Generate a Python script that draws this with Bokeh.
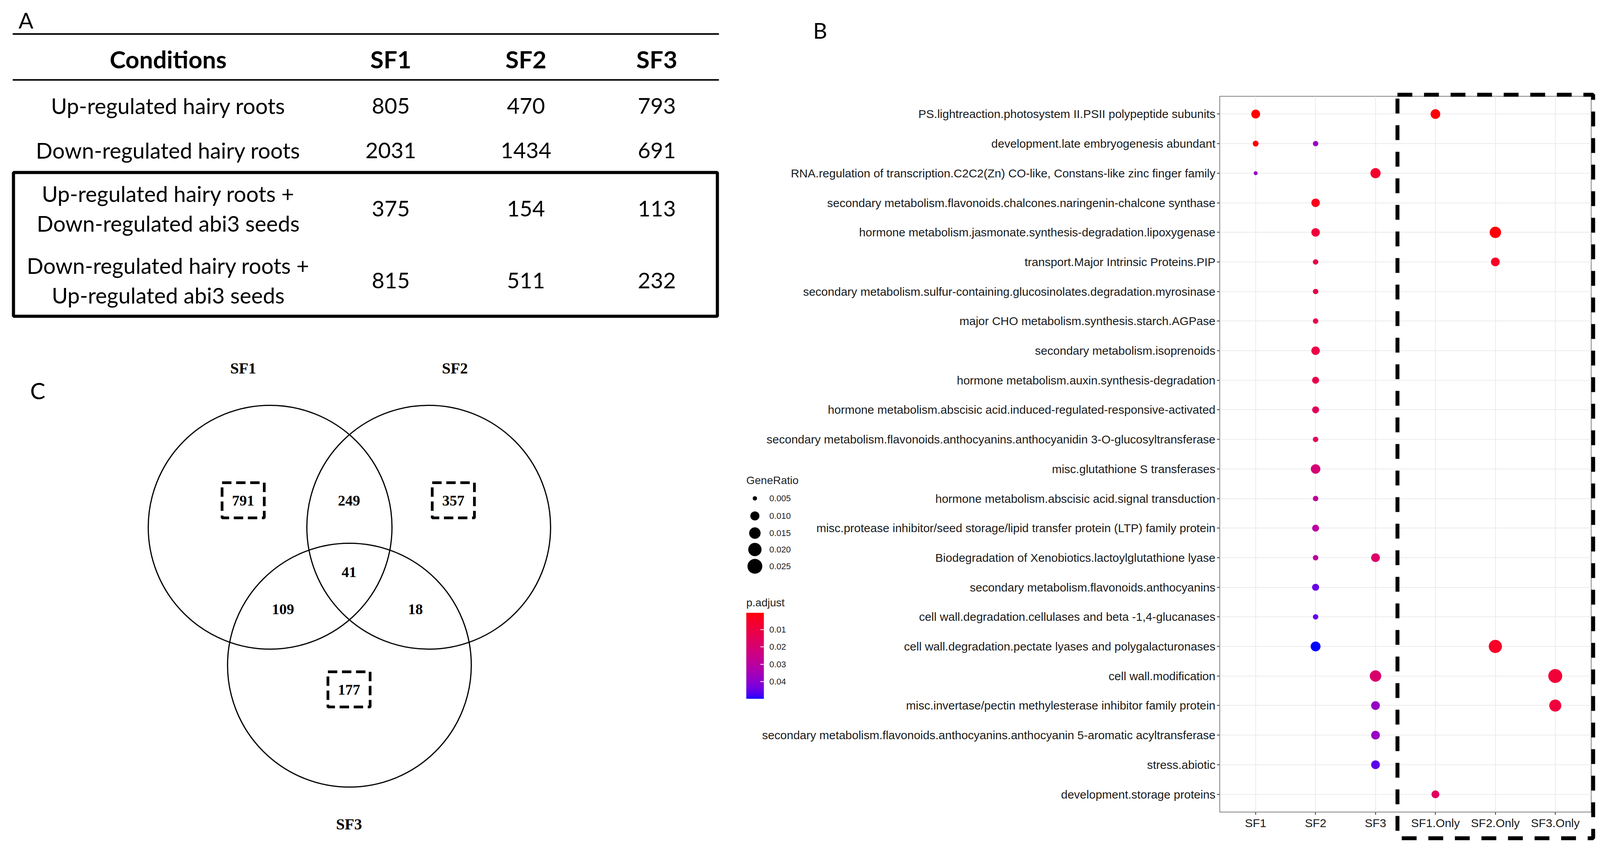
import math
from bokeh.plotting import figure
from bokeh.models import (ColumnDataSource, Range1d, FactorRange, ColorBar,
                          LinearColorMapper, FixedTicker, GridBox)
from bokeh.layouts import row, column
from bokeh.core.properties import value
from bokeh.embed import file_html
from bokeh.resources import INLINE

# ---------------- Panel A data (table) ----------------
conditions = [
    "Up-regulated hairy roots",
    "Down-regulated hairy roots",
    "Up-regulated hairy roots +\nDown-regulated abi3 seeds",
    "Down-regulated hairy roots +\nUp-regulated abi3 seeds",
]
table_header = ["Conditions", "SF1", "SF2", "SF3"]
sf1_counts = [805, 2031, 375, 815]
sf2_counts = [470, 1434, 154, 511]
sf3_counts = [793, 691, 113, 232]

# ---------------- Panel C data (Venn) ----------------
venn_sets = ["SF1", "SF2", "SF3"]
venn_regions = ["SF1 only", "SF1&SF2", "SF2 only", "SF1&SF3", "SF1&SF2&SF3", "SF2&SF3", "SF3 only"]
venn_counts = [791, 249, 357, 109, 41, 18, 177]
venn_boxed = [True, False, True, False, False, False, True]

# ---------------- Panel B data (dot plot) ----------------
terms = [
    "PS.lightreaction.photosystem II.PSII polypeptide subunits",
    "development.late embryogenesis abundant",
    "RNA.regulation of transcription.C2C2(Zn) CO-like, Constans-like zinc finger family",
    "secondary metabolism.flavonoids.chalcones.naringenin-chalcone synthase",
    "hormone metabolism.jasmonate.synthesis-degradation.lipoxygenase",
    "transport.Major Intrinsic Proteins.PIP",
    "secondary metabolism.sulfur-containing.glucosinolates.degradation.myrosinase",
    "major CHO metabolism.synthesis.starch.AGPase",
    "secondary metabolism.isoprenoids",
    "hormone metabolism.auxin.synthesis-degradation",
    "hormone metabolism.abscisic acid.induced-regulated-responsive-activated",
    "secondary metabolism.flavonoids.anthocyanins.anthocyanidin 3-O-glucosyltransferase",
    "misc.glutathione S transferases",
    "hormone metabolism.abscisic acid.signal transduction",
    "misc.protease inhibitor/seed storage/lipid transfer protein (LTP) family protein",
    "Biodegradation of Xenobiotics.lactoylglutathione lyase",
    "secondary metabolism.flavonoids.anthocyanins",
    "cell wall.degradation.cellulases and beta -1,4-glucanases",
    "cell wall.degradation.pectate lyases and polygalacturonases",
    "cell wall.modification",
    "misc.invertase/pectin methylesterase inhibitor family protein",
    "secondary metabolism.flavonoids.anthocyanins.anthocyanin 5-aromatic acyltransferase",
    "stress.abiotic",
    "development.storage proteins",
]
groups = ["SF1", "SF2", "SF3", "SF1.Only", "SF2.Only", "SF3.Only"]

pt_row = [1, 1, 2, 2, 3, 3, 4, 5, 5, 6, 6, 7, 8, 9, 10, 11, 12, 13, 14, 15,
          16, 16, 17, 18, 19, 19, 20, 20, 21, 21, 22, 23, 24]
pt_group = ["SF1", "SF1.Only", "SF1", "SF2", "SF1", "SF3", "SF2", "SF2", "SF2.Only",
            "SF2", "SF2.Only", "SF2", "SF2", "SF2", "SF2", "SF2", "SF2", "SF2", "SF2", "SF2",
            "SF2", "SF3", "SF2", "SF2", "SF2", "SF2.Only", "SF3", "SF3.Only", "SF3", "SF3.Only",
            "SF3", "SF3", "SF1.Only"]
pt_ratio = [0.0096, 0.0111, 0.0059, 0.0056, 0.0049, 0.0121, 0.0090, 0.0090, 0.0149,
            0.0056, 0.0094, 0.0056, 0.0056, 0.0090, 0.0070, 0.0070, 0.0056, 0.0108, 0.0056, 0.0070,
            0.0056, 0.0094, 0.0070, 0.0056, 0.0115, 0.0196, 0.0150, 0.0220, 0.0094, 0.0164,
            0.0094, 0.0094, 0.0082]
pt_padj = [0.0003, 0.0010, 0.0010, 0.0370, 0.0380, 0.0060, 0.0030, 0.0090, 0.0010,
           0.0120, 0.0050, 0.0120, 0.0120, 0.0110, 0.0120, 0.0150, 0.0150, 0.0210, 0.0280, 0.0300,
           0.0290, 0.0180, 0.0450, 0.0450, 0.0499, 0.0050, 0.0190, 0.0080, 0.0380, 0.0090,
           0.0380, 0.0460, 0.0160]
size_breaks = [0.005, 0.010, 0.015, 0.020, 0.025]
color_ticks = [0.01, 0.02, 0.03, 0.04]

# ---------------- scales ----------------
D_MIN, D_MAX, R_MIN, R_MAX = 8.0, 38.0, 0.0048, 0.025


def ratio_to_size(r):
    t = max(0.0, (r - R_MIN) / (R_MAX - R_MIN))
    return D_MIN + (D_MAX - D_MIN) * math.sqrt(t)


def _lin(c):
    c = c / 255.0
    return c / 12.92 if c <= 0.04045 else ((c + 0.055) / 1.055) ** 2.4


def _f(t):
    d = 6 / 29
    return t ** (1 / 3) if t > d ** 3 else t / (3 * d * d) + 4 / 29


def _finv(t):
    d = 6 / 29
    return t ** 3 if t > d else 3 * d * d * (t - 4 / 29)


def rgb_to_lab(rgb):
    r, g, b = [_lin(c) for c in rgb]
    X = 0.4124 * r + 0.3576 * g + 0.1805 * b
    Y = 0.2126 * r + 0.7152 * g + 0.0722 * b
    Z = 0.0193 * r + 0.1192 * g + 0.9505 * b
    fx, fy, fz = _f(X / 0.95047), _f(Y / 1.0), _f(Z / 1.08883)
    return (116 * fy - 16, 500 * (fx - fy), 200 * (fy - fz))


def lab_to_hex(lab):
    L, a, b = lab
    fy = (L + 16) / 116
    fx = fy + a / 500
    fz = fy - b / 200
    X, Y, Z = 0.95047 * _finv(fx), _finv(fy), 1.08883 * _finv(fz)
    rl = 3.2406 * X - 1.5372 * Y - 0.4986 * Z
    gl = -0.9689 * X + 1.8758 * Y + 0.0415 * Z
    bl = 0.0557 * X - 0.2040 * Y + 1.0570 * Z
    out = []
    for c in (rl, gl, bl):
        c = min(1.0, max(0.0, c))
        c = 12.92 * c if c <= 0.0031308 else 1.055 * c ** (1 / 2.4) - 0.055
        out.append(int(round(c * 255)))
    return "#%02x%02x%02x" % tuple(out)


lab_r = rgb_to_lab((255, 0, 0))
lab_b = rgb_to_lab((0, 0, 255))
N = 256
red_to_blue = [lab_to_hex(tuple(lab_r[k] + (lab_b[k] - lab_r[k]) * i / (N - 1) for k in range(3)))
               for i in range(N)]
palette = red_to_blue[::-1]  # palette[0] = blue (largest p.adjust)
mapper = LinearColorMapper(palette=palette, low=max(pt_padj), high=min(pt_padj))

SANS_A = "Lato"
SANS_B = "Liberation Sans"
SERIF = "Liberation Serif"


def blank_fig(w, h, xr, yr):
    f = figure(width=w, height=h, x_range=Range1d(*xr), y_range=Range1d(*yr),
               output_backend="svg", toolbar_location=None, min_border=0,
               x_axis_location=None, y_axis_location=None)
    f.grid.visible = False
    f.outline_line_color = None
    return f


def no_align(f):
    if "frame_align" in f.properties():
        f.frame_align = False


# ---------------- Panel A figure ----------------
ta = blank_fig(1900, 842, (8, 1908), (850, 8))
col_x = [438, 1008, 1354, 1689]
header_y = 158
row_y = [278, 392, 541, 725]

ta.text(x=[74], y=[59], text=["A"], text_font=value(SANS_A), text_font_size="56px",
        text_align="center", text_baseline="middle", text_color="black")
ta.segment(x0=[40, 40], y0=[94.5, 212], x1=[1848, 1848], y1=[94.5, 212],
           line_color="black", line_width=4)
ta.quad(left=[42], right=[1844], top=[449], bottom=[817], fill_color=None,
        line_color="black", line_width=8)
ta.text(x=col_x, y=[header_y] * 4, text=table_header, text_font=value(SANS_A),
        text_font_style="bold", text_font_size="62px", text_align="center",
        text_baseline="middle", text_color="black")
ta.text(x=[col_x[0]] * 4, y=row_y, text=conditions, text_font=value(SANS_A),
        text_font_size="56px", text_align="center", text_baseline="middle",
        text_line_height=1.12, text_color="black")
for cx, vals in zip(col_x[1:], [sf1_counts, sf2_counts, sf3_counts]):
    ta.text(x=[cx] * 4, y=row_y, text=[str(v) for v in vals], text_font=value(SANS_A),
            text_font_size="56px", text_align="center", text_baseline="middle",
            text_color="black")

# ---------------- Panel C figure ----------------
tc = blank_fig(1900, 1356, (8, 1908), (2206, 850))
circle_x = [699, 1105, 902]
circle_y = [1357, 1357, 1710]
set_label_x = [630, 1172, 901]
set_label_y = [950, 950, 2117]
region_x = [630, 901, 1168, 732, 901, 1071, 901]
region_y = [1289, 1289, 1289, 1567, 1472, 1567, 1773]

tc.text(x=[104], y=[1007], text=["C"], text_font=value(SANS_A), text_font_size="58px",
        text_align="center", text_baseline="middle", text_color="black")
tc.circle(x=circle_x, y=circle_y, radius=312, fill_color=None, line_color="black",
          line_width=3)
tc.text(x=set_label_x, y=set_label_y, text=venn_sets, text_font=value(SERIF),
        text_font_style="bold", text_font_size="40px", text_align="center",
        text_baseline="middle", text_color="black")
tc.text(x=region_x, y=region_y, text=[str(v) for v in venn_counts], text_font=value(SERIF),
        text_font_style="bold", text_font_size="38px", text_align="center",
        text_baseline="middle", text_color="black")
bx = [x for x, b in zip(region_x, venn_boxed) if b]
by = [y - 1 for y, b in zip(region_y, venn_boxed) if b]
tc.rect(x=bx, y=by, width=108, height=90, fill_color=None, line_color="black",
        line_width=7, line_dash="24 12")

# ---------------- Panel B figure (dot plot) ----------------
pb = figure(width=2218, height=2198,
            x_range=FactorRange(factors=groups, range_padding=0.2 / 6, range_padding_units="percent"),
            y_range=FactorRange(factors=terms[::-1], range_padding=0.2 / 24, range_padding_units="percent"),
            output_backend="svg", toolbar_location=None,
            min_border_left=1222, min_border_right=45, min_border_top=246, min_border_bottom=120)
no_align(pb)
pb.background_fill_color = "white"
pb.border_fill_color = "white"
pb.outline_line_color = "#7f7f7f"
pb.outline_line_width = 2
pb.grid.grid_line_color = "#ebebeb"
pb.grid.grid_line_width = 2
for ax in (pb.xaxis[0], pb.yaxis[0]):
    ax.axis_line_color = None
    ax.major_tick_line_color = "#333333"
    ax.major_tick_line_width = 2
    ax.major_tick_out = 7
    ax.major_tick_in = 0
    ax.major_label_standoff = 4
    ax.major_label_text_font = SANS_B
    ax.major_label_text_font_size = "30px"
    ax.major_label_text_color = "#1a1a1a"

src = ColumnDataSource(dict(
    term=[terms[i - 1] for i in pt_row],
    group=pt_group,
    ratio=pt_ratio,
    padj=pt_padj,
    size=[ratio_to_size(r) for r in pt_ratio],
))
pb.scatter(x="group", y="term", size="size", source=src,
           fill_color={"field": "padj", "transform": mapper}, line_color=None)

# ---------------- Panel B overlay (legends, dashed highlight, letter) ----------------
ov = blank_fig(2218, 2198, (1908, 4126), (2206, 8))
no_align(ov)
ov.background_fill_color = None
ov.border_fill_color = None

leg_x = 1940
leg_label_x = 1977
leg_y = [1283, 1328, 1372, 1414, 1457]
ov.text(x=[1918], y=[1237], text=["GeneRatio"], text_font=value(SANS_B),
        text_font_size="28px", text_align="left", text_baseline="middle",
        text_color="#222222")
ov.scatter(x=[leg_x] * len(size_breaks), y=leg_y,
           size=[ratio_to_size(b) for b in size_breaks], fill_color="black", line_color=None)
ov.text(x=[leg_label_x] * len(size_breaks), y=leg_y, text=["%.3f" % b for b in size_breaks],
        text_font=value(SANS_B), text_font_size="22px", text_align="left",
        text_baseline="middle", text_color="#222222")
ov.text(x=[1918], y=[1550], text=["p.adjust"], text_font=value(SANS_B),
        text_font_size="28px", text_align="left", text_baseline="middle",
        text_color="#222222")
cbar = ColorBar(color_mapper=mapper, location=(1918 - 1908, 2206 - 1796),
                orientation="vertical", width=45, height=220, padding=0, margin=0,
                title=None, ticker=FixedTicker(ticks=color_ticks),
                major_label_text_font=SANS_B, major_label_text_font_size="22px",
                major_label_text_color="#222222", label_standoff=14,
                major_tick_line_color="white", major_tick_line_width=2,
                major_tick_in=9, major_tick_out=0, minor_tick_line_color=None,
                bar_line_color=None, border_line_color=None, background_fill_alpha=0)
ov.add_layout(cbar, "center")

# dashed highlight around the "Only" columns
ov.quad(left=[3585], right=[4086], top=[250], bottom=[2153], fill_color=None,
        line_color="black", line_width=10, line_dash="38 30")
ov.text(x=[2107], y=[85], text=["B"], text_font=value(SANS_A), text_font_size="56px",
        text_align="center", text_baseline="middle", text_color="black")

right = GridBox(children=[(pb, 0, 0), (ov, 0, 0)])
layout = row(column(ta, tc), right)
open("out.html", "w").write(file_html(layout, INLINE))
